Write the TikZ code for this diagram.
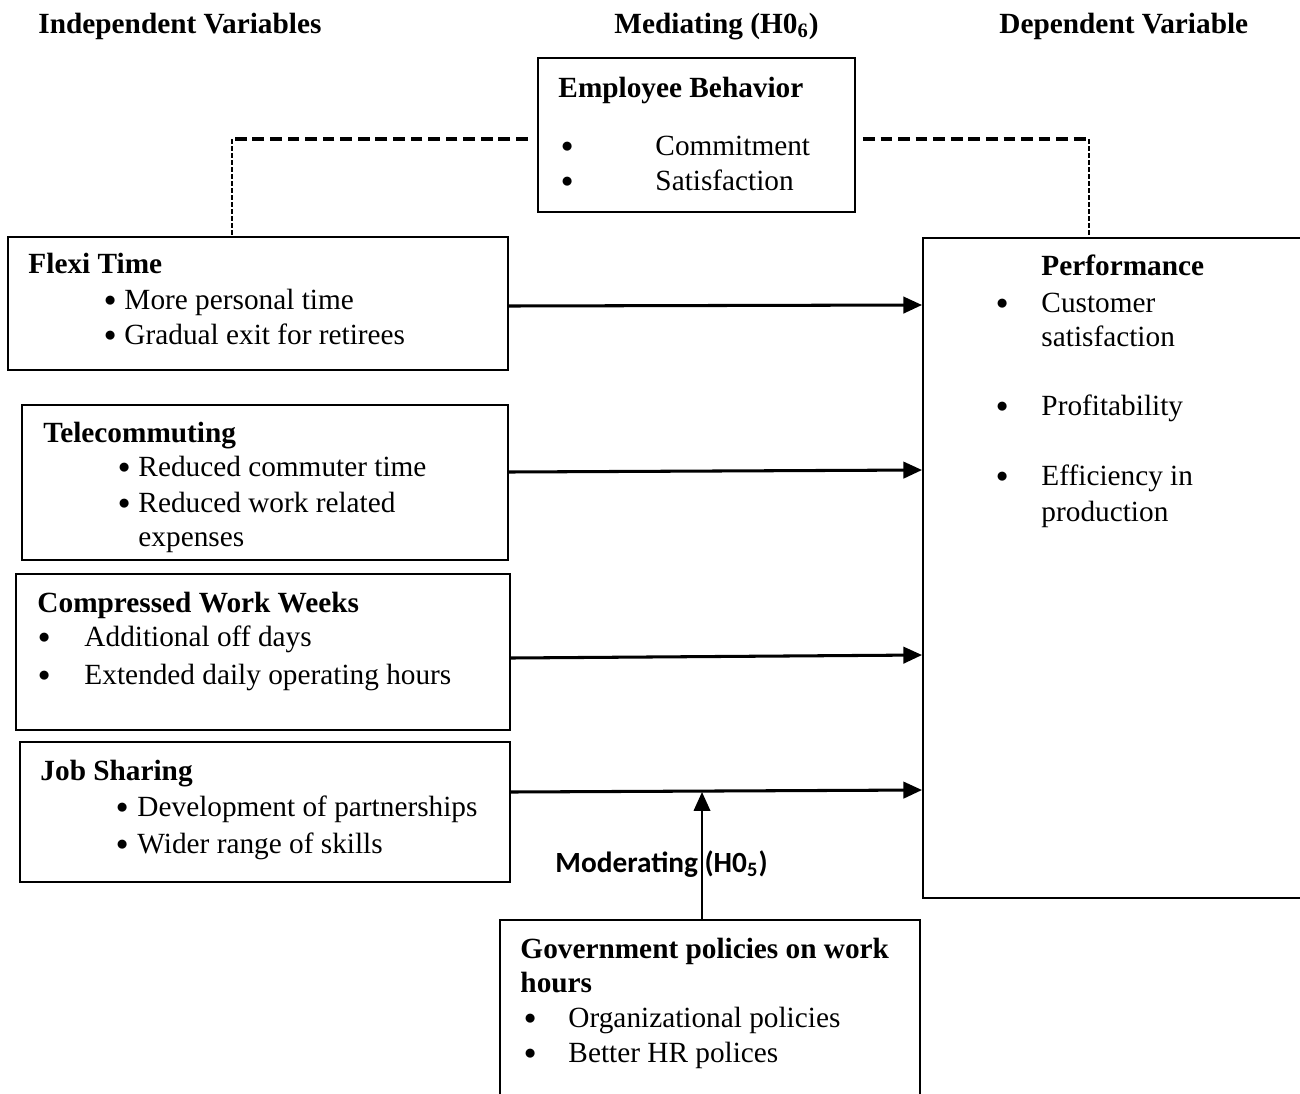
\documentclass[tikz,border=0pt]{standalone}
\usepackage{fontspec}
\setmainfont{Liberation Serif}
\newfontfamily\modfont{Carlito}
\usetikzlibrary{fit,arrows.meta}
\newcommand\blt{\raisebox{1.2pt}{\fontsize{10}{12}\selectfont$\bullet$}}

\begin{document}
\begin{tikzpicture}[x=0.015cm,y=-0.015cm]
      \tikzset{box/.style={draw,
          line width=0.8pt,
          inner sep=0pt,
          fit={#1}},
        txt/.style={anchor=base west,inner sep=0pt,font=\fontsize{12.5}{15}\selectfont},
        head/.style={txt,font=\fontsize{12.5}{15}\selectfont\bfseries},
        flow/.style={line width=1.3pt,-{Triangle[length=8pt,width=7pt]}},
        modflow/.style={line width=0.9pt,-{Triangle[length=8pt,width=7pt]}},
        medthick/.style={line width=1.6pt,dash pattern=on 5pt off 2.5pt},
        medthin/.style={line width=0.5pt,dash pattern=on 2pt off 1pt}
      }
      \useasboundingbox (0,0) rectangle (1300,1093);
      \clip (0,0) rectangle (1300,1093);
      % column heads
      \node [head] (hind) at (38,33) {Independent Variables};
      \node [head] (hmed) at (614,33) {Mediating (H0\textsubscript{6})};
      \node [head] (hdep) at (999,33) {Dependent Variable};
      % boxes
      \node [box={(538,58) (855,212)}] (eb) {};
      \node [box={(8,237) (508,370)}] (flexi) {};
      \node [box={(22,405) (508,560)}] (tele) {};
      \node [box={(16,574) (510,730)}] (comp) {};
      \node [box={(20,742) (510,882)}] (job) {};
      \node [box={(923,238) (1330,898)}] (perf) {};
      \node [box={(500,920) (920,1120)}] (gov) {};
      % employee behavior
      \node [head] (ebt) at (558,97) {Employee Behavior};
      \node [txt] (eb1) at (561,155) {\blt};
      \node [txt] (eb2) at (561,190) {\blt};
      \node [txt] (ebc) at (655,155) {Commitment};
      \node [txt] (ebs) at (655,190) {Satisfaction};
      % flexi time
      \node [head] (flt) at (28,273) {Flexi Time};
      \node [txt] (fl1) at (104,309) {\blt};
      \node [txt] (fl2) at (104,344) {\blt};
      \node [txt] (flp) at (124,309) {More personal time};
      \node [txt] (flg) at (124,344) {Gradual exit for retirees};
      % telecommuting
      \node [head] (tet) at (43,442) {Telecommuting};
      \node [txt] (te1) at (118,476) {\blt};
      \node [txt] (te2) at (118,512) {\blt};
      \node [txt] (tec) at (138,476) {Reduced commuter time};
      \node [txt] (tew) at (138,512) {Reduced work related};
      \node [txt] (tee) at (138,546) {expenses};
      % compressed work weeks
      \node [head] (cot) at (37,612) {Compressed Work Weeks};
      \node [txt] (co1) at (38,646) {\blt};
      \node [txt] (co2) at (38,684) {\blt};
      \node [txt] (coa) at (84,646) {Additional off days};
      \node [txt] (coe) at (84,684) {Extended daily operating hours};
      % job sharing
      \node [head] (jst) at (40,780) {Job Sharing};
      \node [txt] (js1) at (116,816) {\blt};
      \node [txt] (js2) at (116,853) {\blt};
      \node [txt] (jsd) at (137,816) {Development of partnerships};
      \node [txt] (jsw) at (137,853) {Wider range of skills};
      % performance
      \node [head] (pet) at (1041,275) {Performance};
      \node [txt] (pe1) at (996,312) {\blt};
      \node [txt] (pe2) at (996,415) {\blt};
      \node [txt] (pe3) at (996,485) {\blt};
      \node [txt] (pec) at (1041,312) {Customer};
      \node [txt] (pes) at (1041,346) {satisfaction};
      \node [txt] (pep) at (1041,415) {Profitability};
      \node [txt] (pee) at (1041,485) {Efficiency in};
      \node [txt] (pepr) at (1041,521) {production};
      % government policies
      \node [head] (gvt) at (520,958) {Government policies on work};
      \node [head] (gvh) at (520,992) {hours};
      \node [txt] (gv1) at (524,1027) {\blt};
      \node [txt] (gv2) at (524,1062) {\blt};
      \node [txt] (gvo) at (568,1027) {Organizational policies};
      \node [txt] (gvb) at (568,1062) {Better HR polices};
      \node [anchor=base west,inner sep=0pt,font=\modfont\fontsize{12.5}{15}\selectfont\bfseries] (modl) at (555,872) {Moderating (H0\textsubscript{5})};
      % connectors
      \coordinate (lcorner) at (232,139);
      \coordinate (rcorner) at (1089,139);
      \coordinate (modpt) at (702,792);
      \draw [medthick,shorten <=4pt] (lcorner -| eb.west) -- (lcorner);
      \draw [medthin] (lcorner) -- (lcorner |- flexi.north);
      \draw [medthick,shorten <=3pt] (rcorner -| eb.east) -- (rcorner);
      \draw [medthin] (rcorner) -- (rcorner |- perf.north);
      \draw [flow] (flexi.east |- 0,306) -- (perf.west |- 0,305);
      \draw [flow] (tele.east |- 0,472) -- (perf.west |- 0,470);
      \draw [flow] (comp.east |- 0,658) -- (perf.west |- 0,655);
      \draw [flow] (job.east |- 0,792) -- (perf.west |- 0,790);
      \draw [modflow] (modpt |- gov.north) -- (modpt);
\end{tikzpicture}
\end{document}
